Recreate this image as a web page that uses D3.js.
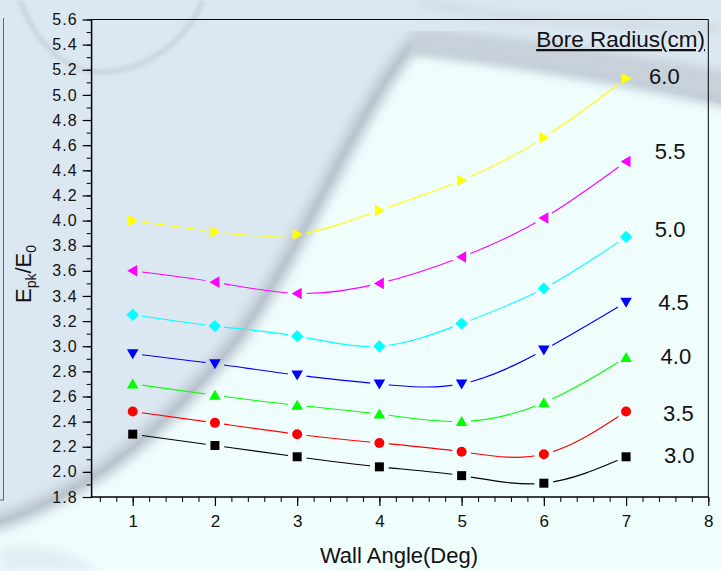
<!DOCTYPE html>
<html>
<head>
<meta charset="utf-8">
<script src="https://cdn.jsdelivr.net/npm/d3@7"></script>
<style>
  html, body { margin: 0; padding: 0; background: #f0fcfc; }
  svg { display: block; font-family: "Liberation Sans", Arial, Helvetica, sans-serif; }
</style>
</head>
<body>
<svg id="chart" width="721" height="571"></svg>
<script>
// wall angle (deg) on x
const angles = [1, 2, 3, 4, 5, 6, 7];
// bore radius (cm) per series
const radii = ['3.0', '3.5', '4.0', '4.5', '5.0', '5.5', '6.0'];
// Epk/E0 values
const epk30 = [2.30, 2.21, 2.12, 2.04, 1.97, 1.91, 2.12];
const epk35 = [2.48, 2.39, 2.30, 2.23, 2.16, 2.14, 2.48];
const epk40 = [2.70, 2.61, 2.53, 2.46, 2.40, 2.55, 2.91];
const epk45 = [2.94, 2.86, 2.77, 2.70, 2.70, 2.97, 3.35];
const epk50 = [3.25, 3.16, 3.08, 3.00, 3.18, 3.46, 3.87];
const epk55 = [3.60, 3.51, 3.42, 3.50, 3.71, 4.02, 4.47];
const epk60 = [4.00, 3.91, 3.89, 4.08, 4.32, 4.66, 5.13];
// where the radius labels sit, in data units
const labelX = [7.46, 7.45, 7.42, 7.39, 7.35, 7.35, 7.28];
const labelY = [2.13, 2.47, 2.92, 3.35, 3.93, 4.55, 5.15];
const xTicks = [1, 2, 3, 4, 5, 6, 7, 8];

const seriesValues = [epk30, epk35, epk40, epk45, epk50, epk55, epk60];
const colors = ['#000000', '#ff0000', '#00ff00', '#0000ff', '#00ffff', '#ff00ff', '#ffff00'];
const shapes = ['square', 'circle', 'up', 'down', 'diamond', 'left', 'right'];

const svg = d3.select('#chart');
const W = 721, H = 571;

// ---- background picture (soft gray swoosh) ----
const defs = svg.append('defs');
const blur = defs.append('filter').attr('id', 'blur').attr('x', '-20%').attr('y', '-20%').attr('width', '140%').attr('height', '140%');
blur.append('feGaussianBlur').attr('stdDeviation', 5);
const blur2 = defs.append('filter').attr('id', 'blur2').attr('x', '-20%').attr('y', '-20%').attr('width', '140%').attr('height', '140%');
blur2.append('feGaussianBlur').attr('stdDeviation', 2);

const bg = svg.append('g');
bg.append('rect').attr('width', W).attr('height', H).attr('fill', '#dbe7f1');
bg.append('path')
    .attr('d', 'M0,518 C90,490 170,420 240,330 C310,230 360,100 412,48 C500,58 620,80 721,104 L721,571 L0,571 Z')
    .attr('fill', '#f0fdfd');
bg.append('path')
    .attr('d', 'M0,548 C60,540 80,560 100,571 L0,571 Z')
    .attr('fill', '#e4eef5').attr('filter', 'url(#blur)');
// main band
bg.append('path')
    .attr('d', 'M-10,525 C90,495 170,425 240,335 C310,235 360,105 412,45 C500,55 620,76 730,100')
    .attr('fill', 'none').attr('stroke', '#c0cad4').attr('stroke-width', 18)
    .attr('filter', 'url(#blur)').attr('opacity', 0.9);
bg.append('path')
    .attr('d', 'M-10,525 C90,495 170,425 240,335 C310,235 360,105 412,45')
    .attr('fill', 'none').attr('stroke', '#b3bec9').attr('stroke-width', 4)
    .attr('filter', 'url(#blur2)');
// upper band across top right
bg.append('path')
    .attr('d', 'M412,40 C500,48 610,62 730,85')
    .attr('fill', 'none').attr('stroke', '#c8d1da').attr('stroke-width', 26)
    .attr('filter', 'url(#blur)');
// faint arc top left
bg.append('path')
    .attr('d', 'M20,0 C30,30 55,68 95,72 C140,74 185,45 203,0')
    .attr('fill', 'none').attr('stroke', '#c4cfd9').attr('stroke-width', 4)
    .attr('filter', 'url(#blur2)');
bg.append('path')
    .attr('d', 'M420,0 C500,25 600,18 721,30')
    .attr('fill', 'none').attr('stroke', '#d3dce4').attr('stroke-width', 10)
    .attr('filter', 'url(#blur)');
// frame remnants
bg.append('line').attr('x1', 712).attr('x2', 712).attr('y1', 0).attr('y2', 110)
    .attr('stroke', '#bcc6d0').attr('stroke-width', 2).attr('filter', 'url(#blur2)');
bg.append('line').attr('x1', 3.5).attr('x2', 3.5).attr('y1', 18).attr('y2', 500)
    .attr('stroke', '#606870').attr('stroke-width', 1);
bg.append('line').attr('x1', 0).attr('x2', 4).attr('y1', 500).attr('y2', 500)
    .attr('stroke', '#606870').attr('stroke-width', 1);

// ---- chart ----
const margin = { left: 91.6, top: 19.5, right: 12.7, bottom: 74 };
const x = d3.scaleLinear().domain([0.5, 8]).range([margin.left, W - margin.right]);
const y = d3.scaleLinear().domain([1.8, 5.6]).range([H - margin.bottom, margin.top]);

const x0 = x.range()[0], x1 = x.range()[1];
const y0 = y.range()[0], y1 = y.range()[1];

// top and right frame
svg.append('path')
    .attr('d', `M${x0},${y1} H${x1} V${y0}`)
    .attr('fill', 'none').attr('stroke', '#000').attr('stroke-width', 1);

const tickFont = '16px';

// y axis
const yMinor = d3.range(18, 57).map(d => d / 10);
svg.append('g')
    .attr('transform', `translate(${x0},0)`)
    .call(d3.axisLeft(y).tickValues(yMinor).tickSize(5).tickFormat(''))
    .call(g => g.select('.domain').remove());
const yMajor = d3.range(9, 29).map(d => d / 5);
const yAxis = svg.append('g')
    .attr('transform', `translate(${x0},0)`)
    .call(d3.axisLeft(y).tickValues(yMajor).tickSize(9).tickPadding(5).tickFormat(d3.format('.1f')));
yAxis.select('.domain').attr('stroke-width', 1.5).attr('d', `M0,${y0 + 0.75}V${y1}`);
yAxis.selectAll('line').attr('stroke-width', 1.2);
yAxis.selectAll('text').style('font-size', tickFont).attr('fill', '#111').attr('letter-spacing', '1px');

// x axis
const xMinor = d3.range(3, 41).map(d => d / 5);
svg.append('g')
    .attr('transform', `translate(0,${y0})`)
    .call(d3.axisBottom(x).tickValues(xMinor).tickSize(5).tickFormat(''))
    .call(g => g.select('.domain').remove());
const xAxis = svg.append('g')
    .attr('transform', `translate(0,${y0})`)
    .call(d3.axisBottom(x).tickValues(xTicks).tickSize(9).tickPadding(9).tickFormat(d3.format('d')));
xAxis.select('.domain').attr('stroke-width', 1.5).attr('d', `M${x0 - 0.75},0H${x1}`);
xAxis.selectAll('line').attr('stroke-width', 1.2);
xAxis.selectAll('text').style('font-size', '17px').attr('fill', '#111');

// axis titles
svg.append('text')
    .attr('x', 399)
    .attr('y', 563)
    .attr('text-anchor', 'middle')
    .style('font-size', '22px')
    .attr('fill', '#111')
    .text('Wall Angle(Deg)');

const yTitle = svg.append('text')
    .attr('transform', 'translate(31,274) rotate(-90)')
    .attr('text-anchor', 'middle')
    .style('font-size', '22px')
    .attr('fill', '#111');
yTitle.append('tspan').text('E');
yTitle.append('tspan').attr('dy', 5).style('font-size', '14px').text('pk');
yTitle.append('tspan').attr('dy', -5).text('/E');
yTitle.append('tspan').attr('dy', 5).style('font-size', '14px').text('0');

// marker shapes
function markerPath(shape) {
    switch (shape) {
        case 'square': return 'M-4.5,-4.5H4.5V4.5H-4.5Z';
        case 'circle': return 'M5,0A5,5 0 1,1 -5,0A5,5 0 1,1 5,0Z';
        case 'up': return 'M0,-5.5L5.8,4.5H-5.8Z';
        case 'down': return 'M0,5.5L5.8,-4.5H-5.8Z';
        case 'diamond': return 'M0,-6.2L6.2,0L0,6.2L-6.2,0Z';
        case 'left': return 'M-5.5,0L4.5,-5.8V5.8Z';
        case 'right': return 'M5.5,0L-4.5,-5.8V5.8Z';
    }
}

const line = d3.line()
    .x(d => x(d.angle))
    .y(d => y(d.value))
    .curve(d3.curveNatural);

seriesValues.forEach((vals, i) => {
    const pts = angles.map((a, j) => ({ angle: a, value: vals[j] }));
    // mask to leave a gap around each symbol
    const m = defs.append('mask').attr('id', `gap${i}`)
        .attr('maskUnits', 'userSpaceOnUse').attr('x', 0).attr('y', 0).attr('width', W).attr('height', H);
    m.append('rect').attr('width', W).attr('height', H).attr('fill', '#fff');
    m.selectAll('circle').data(pts).enter().append('circle')
        .attr('cx', d => x(d.angle)).attr('cy', d => y(d.value)).attr('r', 9.5).attr('fill', '#000');

    svg.append('path')
        .datum(pts)
        .attr('fill', 'none')
        .attr('stroke', colors[i])
        .attr('stroke-width', 1.1)
        .attr('mask', `url(#gap${i})`)
        .attr('d', line);

    svg.append('g').selectAll('path').data(pts).enter().append('path')
        .attr('transform', d => `translate(${x(d.angle)},${y(d.value)})`)
        .attr('d', markerPath(shapes[i]))
        .attr('fill', colors[i]);

    svg.append('text')
        .attr('x', x(labelX[i]))
        .attr('y', y(labelY[i]))
        .attr('dy', '0.35em')
        .style('font-size', '22px')
        .attr('fill', '#111')
        .text(radii[i]);
});

// legend title
svg.append('text')
    .attr('x', 705)
    .attr('y', 47)
    .attr('text-anchor', 'end')
    .style('font-size', '22.5px')
    .attr('fill', '#111')
    .attr('text-decoration', 'underline')
    .text('Bore Radius(cm)');
</script>
</body>
</html>
